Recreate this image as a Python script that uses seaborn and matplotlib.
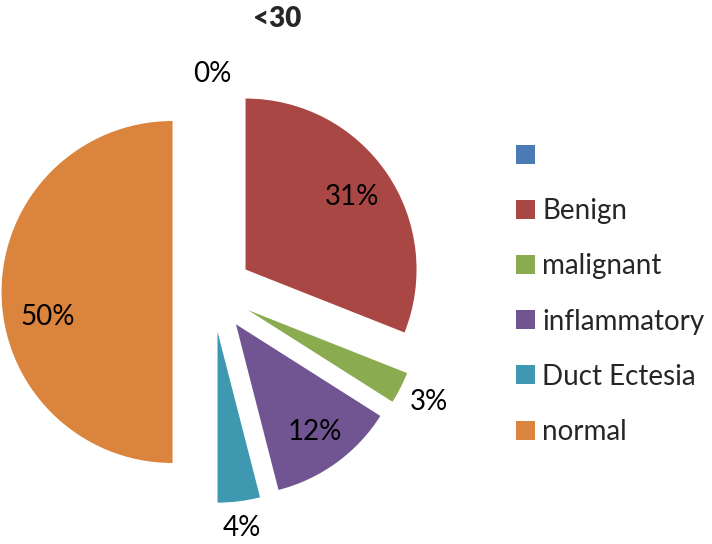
import numpy as np
import matplotlib
matplotlib.use("Agg")
import matplotlib.pyplot as plt
import seaborn as sns

# --- data ---
categories = ["", "Benign", "malignant", "inflammatory", "Duct Ectesia", "normal"]
percent = [0, 31, 3, 12, 4, 50]
title = "<30"

# --- style ---
colors = ["#4A7BB4", "#A94745", "#8AAB4F", "#705592", "#3E98B0", "#DB843D"]
label_dist = [1.28, 0.99, 1.43, 1.02, 1.40, 0.98]   # fraction of radius
label_shift = [0, 0, 0, 0, 0, 8.6]                   # degrees

sns.set_style("white")
plt.rcParams["font.family"] = ["Lato", "DejaVu Sans"]

W, H = 712, 544
fig = plt.figure(figsize=(W / 100, H / 100), dpi=100)
ax = fig.add_axes([0, 0, 1, 1])

cx, cy, r = 212.5, 252, 171
# explode is in data units here (pixels)
wedges, _ = ax.pie(
    percent,
    explode=[0.235 * 170] * len(percent),
    colors=sns.color_palette(colors),
    startangle=90,
    counterclock=False,
    center=(cx, cy),
    radius=r,
    frame=True,
    wedgeprops={"linewidth": 0},
)
ax.set_xlim(0, W)
ax.set_ylim(0, H)
ax.set_aspect("equal")
ax.axis("off")

for w, v, d, s in zip(wedges, percent, label_dist, label_shift):
    th = np.deg2rad((w.theta1 + w.theta2) / 2 + s)
    ax.text(cx + d * 170 * np.cos(th), cy + d * 170 * np.sin(th), f"{v}%",
            ha="center", va="center", fontsize=20, color="black")

fig.text(277 / W, 1 - 19 / H, title, ha="center", va="center",
         fontsize=20, fontweight="heavy")

fig.legend(wedges, categories, loc="upper left",
           bbox_to_anchor=(516 / W, 1 - 143 / H), frameon=False,
           fontsize=20, handlelength=0.68, handleheight=0.68,
           handletextpad=0.26, labelspacing=1.05, borderpad=0,
           borderaxespad=0)

fig.savefig("out.png", dpi=100)
